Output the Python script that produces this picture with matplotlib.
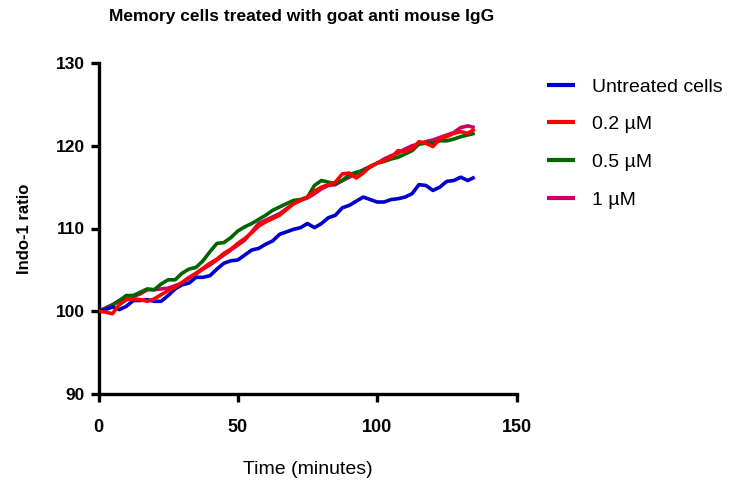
import numpy as np
import matplotlib
matplotlib.use("Agg")
import matplotlib.pyplot as plt

plt.rcParams['font.family'] = ['Liberation Sans', 'DejaVu Sans']

title = "Memory cells treated with goat anti mouse IgG"
xlabel = "Time (minutes)"
ylabel = "Indo-1 ratio"
series_names = ["Untreated cells", "0.2 \u00b5M", "0.5 \u00b5M", "1 \u00b5M"]
series_colors = ["#0000CC", "#FF0000", "#006400", "#CC0066"]

time_min = np.arange(0, 135.01, 2.5)

untreated = [100.0, 100.2, 100.5, 100.2, 100.6, 101.3, 101.3, 101.4, 101.2, 101.2,
             101.9, 102.7, 103.2, 103.4, 104.1, 104.1, 104.3, 105.1, 105.8, 106.1,
             106.2, 106.8, 107.4, 107.6, 108.1, 108.5, 109.3, 109.6, 109.9, 110.1,
             110.6, 110.1, 110.6, 111.3, 111.6, 112.5, 112.8, 113.3, 113.8, 113.5,
             113.2, 113.2, 113.5, 113.6, 113.8, 114.2, 115.3, 115.2, 114.6, 115.0,
             115.7, 115.8, 116.2, 115.8, 116.2]

conc_02 = [100.0, 99.9, 99.7, 100.8, 101.4, 101.5, 101.4, 101.2, 101.5, 102.0,
           102.5, 102.9, 103.5, 104.1, 104.6, 105.2, 105.8, 106.3, 107.0, 107.5,
           108.2, 108.8, 109.5, 110.3, 110.8, 111.2, 111.6, 112.3, 113.0, 113.4,
           113.8, 114.5, 115.0, 115.3, 115.6, 116.6, 116.7, 116.1, 116.7, 117.5,
           117.9, 118.2, 118.6, 119.4, 119.3, 119.6, 120.5, 120.3, 119.9, 120.8,
           121.1, 121.5, 121.7, 121.5, 122.0]

conc_05 = [100.0, 100.3, 100.7, 101.3, 101.9, 101.9, 102.3, 102.7, 102.6, 103.3,
           103.8, 103.8, 104.6, 105.1, 105.3, 106.1, 107.2, 108.2, 108.3, 108.9,
           109.7, 110.2, 110.6, 111.1, 111.6, 112.2, 112.6, 113.0, 113.4, 113.5,
           113.8, 115.2, 115.8, 115.6, 115.4, 115.8, 116.5, 116.8, 117.0, 117.4,
           117.9, 118.1, 118.4, 118.6, 119.0, 119.4, 120.2, 120.3, 120.3, 120.6,
           120.6, 120.8, 121.1, 121.3, 121.5]

conc_1 = [100.0, 100.4, 100.8, 101.3, 101.4, 101.8, 102.1, 102.6, 102.6, 102.7,
          102.8, 103.1, 103.4, 104.0, 104.5, 105.1, 105.6, 106.2, 106.8, 107.4,
          108.0, 108.6, 109.6, 110.6, 111.0, 111.4, 111.8, 112.4, 113.0, 113.4,
          113.7, 114.2, 114.8, 115.2, 115.3, 115.8, 116.2, 116.6, 117.1, 117.5,
          117.9, 118.4, 118.8, 119.1, 119.6, 120.0, 120.2, 120.5, 120.7, 121.0,
          121.3, 121.6, 122.2, 122.4, 122.2]

x_ticks = [0, 50, 100, 150]
y_ticks = [90, 100, 110, 120, 130]

fig = plt.figure(figsize=(7.5, 4.84), dpi=100)
ax = fig.add_axes([98.5 / 750, 1 - 394 / 484, (516.5 - 98.5) / 750, (394 - 63) / 484])

data = [untreated, conc_02, conc_05, conc_1]
zorders = [4, 5, 3, 2]
handles = []
for vals, name, col, z in zip(data, series_names, series_colors, zorders):
    h, = ax.plot(time_min, vals, color=col, lw=2.6, label=name, zorder=z,
                 solid_joinstyle='round', solid_capstyle='butt')
    handles.append(h)

ax.set_xlim(0, 150)
ax.set_ylim(90, 130)
ax.set_xticks(x_ticks)
ax.set_yticks(y_ticks)
for s in ['top', 'right']:
    ax.spines[s].set_visible(False)
for s in ['left', 'bottom']:
    ax.spines[s].set_linewidth(2.4)
    ax.spines[s].set_capstyle('projecting')
ax.tick_params(axis='both', direction='out', length=6, width=2.4, color='black')
ax.tick_params(axis='x', pad=12, labelsize=13)
ax.tick_params(axis='y', pad=4, labelsize=12.5)
for lab in ax.get_xticklabels() + ax.get_yticklabels():
    lab.set_fontweight('bold')

ax.set_xlabel(xlabel, fontsize=14, labelpad=18)
ax.set_ylabel(ylabel, fontsize=12, fontweight='bold', labelpad=17)
fig.text(302 / 750, 1 - 17 / 484, title, ha='center', va='center',
         fontsize=12.5, fontweight='bold')

leg = ax.legend(handles=handles, loc='upper left',
                bbox_to_anchor=(547 / 750, 1 - 78 / 484),
                bbox_transform=fig.transFigure, frameon=False,
                fontsize=14, handlelength=1.44, handletextpad=0.88,
                labelspacing=1.03, borderpad=0, borderaxespad=0)
for l in leg.get_lines():
    l.set_linewidth(3)

fig.savefig("out.png", dpi=100)
